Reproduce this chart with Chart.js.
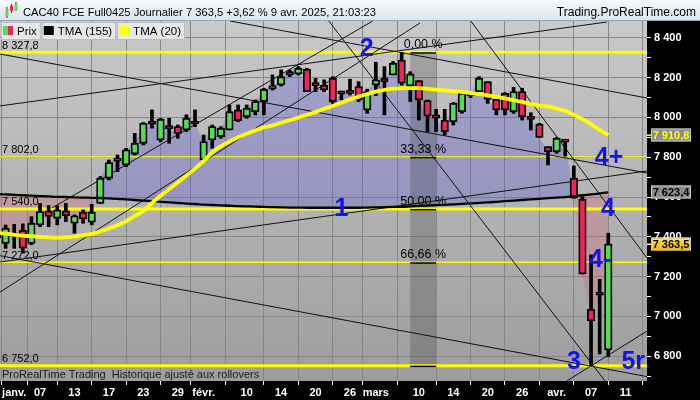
<!DOCTYPE html>
<html lang="fr">
<head>
<meta charset="utf-8">
<title>CAC40 FCE Full0425 Journalier</title>
<script src="https://cdn.jsdelivr.net/npm/chart.js@4.4.1/dist/chart.umd.min.js"></script>
<style>
  html, body { margin: 0; padding: 0; background: #000; }
  canvas { display: block; }
</style>
</head>
<body>
<canvas id="chart" width="700" height="400"></canvas>
<script>
// ---- Sessions (trading days) ----
const sessions = [
  '30/12', '31/12',
  '02/01', '03/01', '06/01', '07/01', '08/01', '09/01', '10/01', '13/01', '14/01', '15/01', '16/01',
  '17/01', '20/01', '21/01', '22/01', '23/01', '24/01', '27/01', '28/01', '29/01', '30/01', '31/01',
  '03/02', '04/02', '05/02', '06/02', '07/02', '10/02', '11/02', '12/02', '13/02', '14/02',
  '17/02', '18/02', '19/02', '20/02', '21/02', '24/02', '25/02', '26/02', '27/02', '28/02',
  '03/03', '04/03', '05/03', '06/03', '07/03', '10/03', '11/03', '12/03', '13/03', '14/03',
  '17/03', '18/03', '19/03', '20/03', '21/03', '24/03', '25/03', '26/03', '27/03', '28/03', '31/03',
  '01/04', '02/04', '03/04', '04/04', '07/04', '08/04', '09/04'
];

// ---- Daily prices ----
const opens = [
  7395, 7367,
  7415, 7432, 7367, 7460, 7530, 7493, 7530, 7468, 7523, 7473, 7568,
  7694, 7780, 7761, 7816, 7870, 7974, 7887, 7950, 7954, 7937, 7982,
  7786, 7887, 7904, 7937, 8038, 8004, 8029, 8080, 8145, 8163,
  8214, 8219, 8242, 8165, 8163, 8197, 8123, 8130, 8155, 8038,
  8163, 8197, 8214, 8289, 8158, 8185, 8085, 8013, 7987, 7979,
  8029, 8110, 8130, 8180, 8091, 8121, 8029, 8130, 7996, 7967, 7853,
  7828, 7880, 7694, 7589, 7035, 7110, 6831
];
const highs = [
  7440, 7459,
  7463, 7465, 7501, 7568, 7557, 7557, 7568, 7510, 7535, 7563, 7703,
  7786, 7811, 7845, 7920, 7975, 8038, 7995, 7996, 7962, 8013, 8038,
  7912, 7962, 7954, 8063, 8063, 8063, 8088, 8147, 8214, 8239,
  8239, 8256, 8247, 8197, 8189, 8205, 8130, 8192, 8180, 8142,
  8278, 8256, 8281, 8327.8, 8230, 8185, 8088, 8041, 8041, 8075,
  8125, 8130, 8205, 8180, 8091, 8125, 8152, 8147, 8024, 7971, 7853,
  7900, 7884, 7756, 7602, 7309, 7186, 7418
];
const lows = [
  7370, 7342,
  7342, 7318, 7360, 7451, 7451, 7460, 7476, 7418, 7468, 7460, 7568,
  7686, 7728, 7753, 7811, 7862, 7946, 7878, 7870, 7895, 7929, 7954,
  7786, 7845, 7895, 7937, 7979, 7996, 8013, 8013, 8138, 8158,
  8205, 8214, 8130, 8130, 8130, 8071, 8088, 8113, 8080, 8021,
  8110, 8013, 8214, 8163, 8080, 7987, 7929, 7929, 7912, 7962,
  8021, 8100, 8130, 8071, 8013, 8013, 8021, 7987, 7937, 7900, 7761,
  7820, 7805, 7594, 7213, 6752, 6811, 6797
];
const closes = [
  7420, 7443,
  7405, 7343, 7468, 7527, 7502, 7535, 7506, 7506, 7490, 7523, 7694,
  7773, 7795, 7837, 7870, 7971, 7966, 7991, 7944, 7920, 7996, 7967,
  7879, 7954, 7946, 8029, 7984, 8046, 8080, 8142, 8152, 8205,
  8231, 8247, 8130, 8160, 8138, 8080, 8119, 8121, 8088, 8130,
  8189, 8180, 8273, 8172, 8219, 8088, 8008, 7996, 7929, 8071,
  8121, 8121, 8197, 8091, 8038, 8038, 8130, 8004, 7990, 7900, 7828,
  7895, 7876, 7594, 7213, 6977, 7106, 7363.5
];

// ---- Moving averages ----
const tma155 = [
  7616, 7613,
  7611, 7609, 7607, 7605, 7603, 7601, 7600, 7598, 7597, 7596, 7595,
  7593, 7591, 7588, 7585, 7582, 7579, 7576, 7573, 7570, 7567, 7565,
  7562, 7560, 7558, 7556, 7554, 7553, 7552, 7550, 7549, 7548,
  7547, 7547, 7546, 7546, 7546, 7546, 7546, 7546, 7546, 7547,
  7548, 7549, 7550, 7551, 7553, 7555, 7557, 7559, 7561, 7563,
  7566, 7568, 7571, 7573, 7576, 7579, 7582, 7585, 7588, 7591, 7594,
  7597, 7600, 7604, 7609, 7613, 7618, 7623.4
];
const tma20 = [
  7420, 7416,
  7410, 7406, 7403, 7400, 7397, 7396, 7397, 7401, 7408, 7415, 7428,
  7442, 7458, 7478, 7505, 7530, 7570, 7606, 7640, 7673, 7707, 7743,
  7780, 7825, 7855, 7880, 7900, 7918, 7935, 7950, 7960, 7973,
  7986, 7999, 8013, 8027, 8043, 8058, 8074, 8090, 8105, 8118,
  8130, 8139, 8145, 8147, 8148, 8147, 8144, 8140, 8136, 8132,
  8128, 8123, 8118, 8111, 8104, 8096, 8087, 8078, 8068, 8059, 8054,
  8044, 8033, 8013, 7991, 7966, 7937, 7910.8
];

// ---- Time axis labels (slot = session number, 73 = 11 avr.) ----
const tickSlots  = [2, 5, 9, 13, 17, 21, 24, 29, 33, 37, 41, 44, 49, 53, 57, 61, 65, 69, 73];
const tickLabels = ['janv.', '07', '13', '17', '23', '29', 'févr.', '10', '14', '20', '26',
                    'mars', '10', '14', '20', '26', 'avr.', '07', '11'];

// ---- Fibonacci retracement 8 327,8 -> 6 752,0 ----
const fibLevels = [8327.8, 7802.0, 7540.0, 7272.0, 6752.0];
const fibTexts  = ['0,00 %', '33,33 %', '50,00 %', '66,66 %', ''];
const fibBand   = [48, 51];

// ---- Trend lines (session slot, price) ----
const trendStartSlot  = [0.35, 27.06, 0.35, 6.39, 0.35, 0.35, 0.35, 38.45, 54.94, 66.17];
const trendStartPrice = [8319, 8485, 8058, 7545, 7122, 7273, 7305, 8490, 8490, 6675];
const trendEndSlot    = [75.5, 75.5, 70.85, 43.64, 49.13, 75.5, 75.5, 70.62, 75.5, 75.5];
const trendEndPrice   = [7721, 8098, 8480, 8485, 8475, 7731, 6697, 6675, 7293, 6926];

// ---- Elliott wave count ----
const waveText  = ['1', '2', '3', '4', '4+', '4-', '5r'];
const waveSlot  = [40, 42.94, 67.02, 70.97, 71.08, 70.04, 73.9];
const wavePrice = [7540, 8345, 6770, 7540, 7795, 7282, 6770];

// ---------------------------------------------------------------
const FONT = '"Liberation Sans", Arial, Helvetica, sans-serif';
const GREEN = '#55dd55', RED = '#f0245a';
const LAVENDER = 'rgba(92, 92, 215, 0.33)', PINK = 'rgba(225, 80, 105, 0.24)';
const X_MIN = 0.351, X_MAX = 75.496, Y_MIN = 6675, Y_MAX = 8485;
const levelWidths = [3, 1.2, 3, 1.5, 3];

function fmt(v, d) {
  const parts = Number(v).toFixed(d).split('.');
  const int = parts[0].replace(/\B(?=(\d{3})+(?!\d))/g, ' ');
  return d ? int + ',' + parts[1] : int;
}

const last = closes.length - 1;
const change = (closes[last] / closes[last - 1] - 1) * 100;
const titleText = 'CAC40 FCE Full0425 Journalier ' + fmt(closes[last], 1) + ' +' +
                  fmt(change, 2) + ' % 9 avr. 2025, 21:03:23';

const pts = arr => arr.map((v, i) => ({ x: i, y: v }));

const datasets = [
  { // close line used only to shade the gap against the long average
    type: 'line', label: 'close', data: pts(closes), borderWidth: 0, borderColor: 'rgba(0,0,0,0)',
    pointRadius: 0, fill: { target: 1, above: LAVENDER, below: PINK }, order: 20
  },
  { type: 'line', label: 'TMA (155)', data: pts(tma155), borderColor: '#050505', borderWidth: 2.3,
    pointRadius: 0, cubicInterpolationMode: 'monotone', fill: false, order: 3 },
  { type: 'line', label: 'TMA (20)', data: pts(tma20), borderColor: '#ffff00', borderWidth: 3.8,
    pointRadius: 0, cubicInterpolationMode: 'monotone', fill: false, order: 2 },
  { type: 'bar', label: 'wicks', data: sessions.map((d, i) => ({ x: i, y: [lows[i], highs[i]] })),
    backgroundColor: '#000', borderWidth: 0, barThickness: 3, grouped: false, order: 6 },
  { type: 'bar', label: 'Prix', data: sessions.map((d, i) => ({ x: i, y: [opens[i], closes[i]] })),
    backgroundColor: closes.map((c, i) => c >= opens[i] ? GREEN : RED),
    borderColor: '#000', borderWidth: 1.8, borderSkipped: false, barThickness: 7.5,
    minBarLength: 3, grouped: false, order: 5 }
];
fibLevels.forEach((lvl, k) => datasets.push({
  type: 'line', label: 'fib' + k, data: [{ x: X_MIN, y: lvl }, { x: X_MAX, y: lvl }],
  borderColor: '#ffff00', borderWidth: levelWidths[k], pointRadius: 0, fill: false, order: 15
}));
trendStartSlot.forEach((s, k) => datasets.push({
  type: 'line', label: 'trend' + k,
  data: [{ x: s, y: trendStartPrice[k] }, { x: trendEndSlot[k], y: trendEndPrice[k] }],
  borderColor: '#111', borderWidth: 1, pointRadius: 0, fill: false, order: 12
}));

// Backgrounds: black frame, header strip, grey plot gradient
const framePlugin = {
  id: 'frame',
  beforeDraw(chart) {
    const { ctx, chartArea: a, width, height } = chart;
    ctx.save();
    ctx.fillStyle = '#000';
    ctx.fillRect(0, 0, width, height);
    let g = ctx.createLinearGradient(0, 0, 0, a.top);
    g.addColorStop(0, '#f8fafc');
    g.addColorStop(1, '#dce3ea');
    ctx.fillStyle = g;
    ctx.fillRect(0, 0, width, a.top);
    ctx.fillStyle = '#97a3ae';
    ctx.fillRect(0, a.top - 1, width, 1);
    g = ctx.createLinearGradient(0, a.top, 0, a.bottom);
    g.addColorStop(0, '#c9c9c9');
    g.addColorStop(1, '#9d9d9d');
    ctx.fillStyle = g;
    ctx.fillRect(a.left, a.top, a.right - a.left, a.bottom - a.top);
    ctx.restore();
  },
  afterDatasetDraw(chart, args) {
    if (args.index !== 0) return;
    // darker retracement column
    const { ctx, scales: { x, y } } = chart;
    const x0 = x.getPixelForValue(fibBand[0]), x1 = x.getPixelForValue(fibBand[1]);
    const y0 = y.getPixelForValue(fibLevels[0]), y1 = y.getPixelForValue(fibLevels[fibLevels.length - 1]);
    ctx.save();
    ctx.fillStyle = 'rgba(45, 45, 45, 0.24)';
    ctx.fillRect(x0, y0, x1 - x0, y1 - y0);
    ctx.restore();
  }
};

// Texts drawn on the plot
const notesPlugin = {
  id: 'notes',
  afterDatasetsDraw(chart) {
    const { ctx, chartArea: a, scales: { x, y } } = chart;
    ctx.save();
    ctx.beginPath();
    ctx.rect(a.left, a.top, a.right - a.left, a.bottom - a.top);
    ctx.clip();

    // retracement marks and percentages
    const fx0 = x.getPixelForValue(fibBand[0]), fx1 = x.getPixelForValue(fibBand[1]);
    const fxc = (fx0 + fx1) / 2;
    fibLevels.forEach((lvl, k) => {
      const py = y.getPixelForValue(lvl);
      ctx.fillStyle = '#000';
      ctx.fillRect(fx0, py, fx1 - fx0, 1.5);
      if (fibTexts[k]) {
        ctx.font = '12.5px ' + FONT;
        ctx.textAlign = 'center';
        ctx.textBaseline = 'alphabetic';
        ctx.fillStyle = '#000';
        ctx.fillText(fibTexts[k], fxc, py - 4);
      }
      // level values on the left
      ctx.font = '11px ' + FONT;
      ctx.textAlign = 'left';
      ctx.fillStyle = '#000';
      ctx.fillText(fmt(lvl, 1), 2, py - 3.5);
    });

    // wave count
    ctx.font = 'bold 25px ' + FONT;
    ctx.textAlign = 'center';
    ctx.textBaseline = 'middle';
    ctx.fillStyle = '#1212f5';
    waveText.forEach((t, k) => {
      ctx.fillText(t, x.getPixelForValue(waveSlot[k]), y.getPixelForValue(wavePrice[k]));
    });

    // footer note
    ctx.font = '11px ' + FONT;
    ctx.textAlign = 'left';
    ctx.textBaseline = 'alphabetic';
    ctx.fillStyle = '#1a1a1a';
    ctx.fillText('ProRealTime Trading  Historique ajusté aux rollovers', 2, a.bottom - 3);
    ctx.restore();
  },
  afterDraw(chart) {
    const { ctx, chartArea: a, scales: { y }, width } = chart;
    ctx.save();

    // header line
    ctx.textBaseline = 'alphabetic';
    ctx.font = '11.2px ' + FONT;
    ctx.fillStyle = '#000';
    ctx.textAlign = 'left';
    ctx.fillText(titleText, 23, 16);
    ctx.font = '12px ' + FONT;
    ctx.textAlign = 'right';
    ctx.fillText('Trading.ProRealTime.com', width - 4, 16);
    // small candle glyph
    [[6, 9, 16, 7, 18, GREEN], [10.5, 6, 11, 4, 13, RED], [15, 4, 9, 2, 11, GREEN]].forEach(c => {
      ctx.fillStyle = '#333';
      ctx.fillRect(c[0] + 0.5, c[3], 1, c[4] - c[3]);
      ctx.fillStyle = c[5];
      ctx.fillRect(c[0] - 0.5, c[1], 3, c[2] - c[1]);
    });

    // legend boxes
    ctx.font = '11.5px ' + FONT;
    ctx.textAlign = 'left';
    const items = [['Prix', null], ['TMA (155)', '#000'], ['TMA (20)', '#ffff00']];
    let bx = 1;
    items.forEach(([label, col]) => {
      const w = 16 + ctx.measureText(label).width + 4;
      ctx.fillStyle = '#e6e8ea';
      ctx.fillRect(bx, a.top + 1, w, 18);
      ctx.strokeStyle = '#b9bec3';
      ctx.lineWidth = 1;
      ctx.strokeRect(bx + 0.5, a.top + 1.5, w - 1, 17);
      if (col) {
        ctx.fillStyle = col;
        ctx.fillRect(bx + 2, a.top + 5, 10, 9);
      } else {
        ctx.fillStyle = GREEN;
        ctx.fillRect(bx + 2, a.top + 5, 5, 9);
        ctx.fillStyle = RED;
        ctx.fillRect(bx + 7, a.top + 5, 5, 9);
      }
      ctx.fillStyle = '#000';
      ctx.fillText(label, bx + 16, a.top + 14);
      bx += w + 1;
    });

    // last-value tags on the price axis
    const tag = (v, bg, fg, tickCol) => {
      const py = Math.round(y.getPixelForValue(v));
      const x0 = a.right + 4, w = 40, h = 13;
      if (tickCol) {
        ctx.fillStyle = tickCol;
        ctx.fillRect(a.right, py - 0.5, 4, 1.5);
      }
      ctx.fillStyle = bg;
      ctx.fillRect(x0, py - h / 2, w, h);
      ctx.strokeStyle = '#c8c8c8';
      ctx.lineWidth = 1;
      ctx.strokeRect(x0 + 0.5, py - h / 2 + 0.5, w - 1, h - 1);
      ctx.font = 'bold 11px ' + FONT;
      ctx.textAlign = 'center';
      ctx.textBaseline = 'middle';
      ctx.fillStyle = fg;
      ctx.fillText(fmt(v, 1), x0 + w / 2, py + 0.5);
    };
    tag(tma20[last], '#8d8d8d', '#ffff00', '#ffff00');
    tag(tma155[last], '#8d8d8d', '#000', null);
    const py = y.getPixelForValue(closes[last]);
    const g = ctx.createLinearGradient(0, py - 6, 0, py + 6);
    g.addColorStop(0, '#ffe45c');
    g.addColorStop(1, '#f2b000');
    tag(closes[last], g, '#000', '#ffffff');
    ctx.restore();
  }
};

Chart.defaults.font.family = FONT;

new Chart(document.getElementById('chart'), {
  type: 'bar',
  data: { datasets },
  options: {
    responsive: false,
    animation: false,
    devicePixelRatio: 1,
    layout: { padding: { top: 21, left: 0, right: 0, bottom: 0 } },
    plugins: {
      legend: { display: false },
      tooltip: { enabled: false },
      filler: { propagate: false }
    },
    scales: {
      x: {
        type: 'linear', position: 'bottom', min: X_MIN, max: X_MAX, offset: false,
        afterBuildTicks: s => { s.ticks = tickSlots.map(v => ({ value: v })); },
        afterFit: s => { s.height = 19; },
        ticks: {
          autoSkip: false, maxRotation: 0, padding: 1, color: '#fff',
          font: { size: 11, weight: 'bold', family: FONT },
          callback: v => { const k = tickSlots.indexOf(v); return k >= 0 ? tickLabels[k] : ''; }
        },
        grid: { color: '#878787', lineWidth: 1, tickColor: '#fff', tickLength: 4 },
        border: { display: false }
      },
      y: {
        type: 'linear', position: 'right', min: Y_MIN, max: Y_MAX,
        afterBuildTicks: s => {
          const t = [];
          for (let v = 6700; v <= 8400; v += 100) t.push({ value: v });
          s.ticks = t;
        },
        afterFit: s => { s.width = 53; },
        ticks: {
          autoSkip: false, padding: 3, color: '#fff',
          font: { size: 11, weight: 'bold', family: FONT },
          callback: v => (v % 200 === 0 ? fmt(v, 0) : '')
        },
        grid: {
          color: c => (c.tick && c.tick.value % 200 === 0 ? '#878787' : 'rgba(0,0,0,0)'),
          tickColor: '#fff', tickLength: 4
        },
        border: { display: false }
      }
    }
  },
  plugins: [framePlugin, notesPlugin]
});
</script>
</body>
</html>
